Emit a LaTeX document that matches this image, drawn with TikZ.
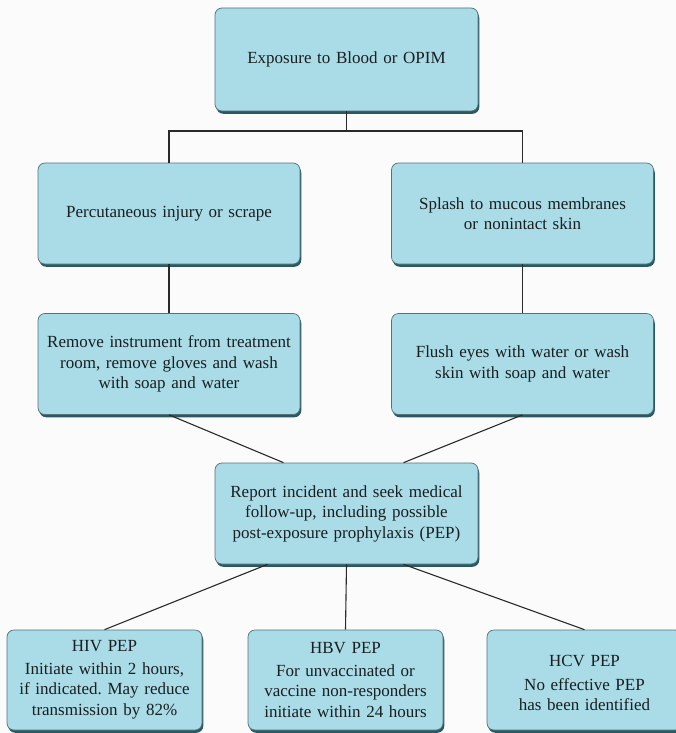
\documentclass[tikz,border=0pt]{standalone}
\usepackage{fontspec}
\setmainfont{Liberation Serif}
\usetikzlibrary{shadows}
\definecolor{boxfill}{HTML}{A9DCE7}
\definecolor{boxedge}{HTML}{51737B}
\definecolor{boxshade}{HTML}{2C5862}
\definecolor{txt}{HTML}{1A1E20}
\definecolor{linec}{HTML}{2A2A2A}
\definecolor{bg}{HTML}{FBFBFB}
\tikzset{
  box/.style={rounded corners=7pt, fill=boxfill, draw=boxedge, line width=0.7pt,
    align=center, text=txt, inner sep=0pt,
    font=\fontsize{17}{20.5}\selectfont\frenchspacing,
    drop shadow={shadow xshift=1.3pt, shadow yshift=-2.8pt, fill=boxshade, opacity=1}},
  wide/.style={box, minimum width=262pt, minimum height=101pt, text width=255pt},
  small/.style={box, minimum width=195pt, minimum height=100pt, text width=192pt},
  boxtext/.style={align=center, text=txt, inner sep=0pt, text width=192pt,
    font=\fontsize{17}{20.5}\selectfont\frenchspacing},
  conn/.style={draw=linec, line width=1.1pt}
}
\begin{document}
\begin{tikzpicture}[x=1pt,y=-1pt]
\useasboundingbox[fill=bg] (0,0) rectangle (676,733);
\node[wide, minimum width=263pt, minimum height=103pt] (top) at (346.5,59.5) {Exposure to Blood or OPIM};
\node[wide] (b2l) at (169,213.5) {Percutaneous injury or scrape};
\node[wide] (b2r) at (522.5,213.5) {Splash to mucous membranes\\or nonintact skin};
\node[wide] (b3l) at (169,364) {Remove instrument from treatment\\room, remove gloves and wash\\with soap and water};
\node[wide] (b3r) at (522.5,364) {Flush eyes with water or wash\\skin with soap and water};
\node[wide, minimum width=263pt] (rep) at (346.5,513.5) {Report incident and seek medical\\follow-up, including possible\\post-exposure prophylaxis (PEP)};
\node[small] (hiv) at (104.5,680) {HIV PEP\\[2pt]Initiate within 2 hours,\\if indicated. May reduce\\transmission by 82\%};
\node[small] (hbv) at (345.5,680) {HBV PEP\\[2pt]For unvaccinated or\\vaccine non-responders\\initiate within 24 hours};
\node[small] (hcv) at (584.5,680) {};
\node[boxtext] (hcvt) at (584.5,683) {HCV PEP\\[3pt]No effective PEP\\has been identified};
\coordinate (j) at (346.5,131);
\path[conn] (top.south) -- (j);
\path[conn] (b2l.north) |- (j) -| (b2r.north);
\path[conn] (b2l.south) -- (b3l.north);
\path[conn] (b2r.south) -- (b3r.north);
\path[conn] (b3l.south) -- ([xshift=-63pt]rep.north);
\path[conn] (b3r.south) -- ([xshift=57pt]rep.north);
\path[conn] ([xshift=-79pt]rep.south) -- (hiv.north);
\path[conn] (rep.south) -- (hbv.north);
\path[conn] ([xshift=57pt]rep.south) -- (hcv.north);
\end{tikzpicture}
\end{document}
